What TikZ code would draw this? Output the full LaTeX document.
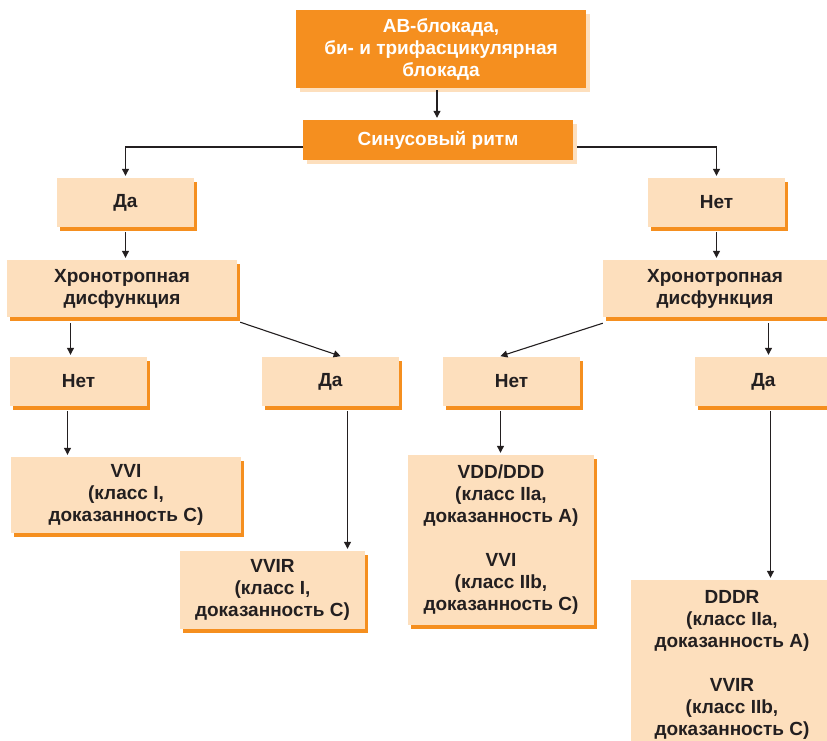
\documentclass[tikz,border=0pt]{standalone}
\usepackage{fontspec}
\setmainfont{Liberation Sans}
\usetikzlibrary{arrows.meta,shadows}

\definecolor{boxorange}{HTML}{F58F1F}
\definecolor{boxpeach}{HTML}{FDDFBD}
\definecolor{inkdark}{HTML}{231F20}

\tikzset{
  mainbox/.style={fill=boxorange, text=white, align=center, inner sep=0pt,
    font=\fontsize{19}{22}\selectfont\bfseries,
    general shadow={fill=boxpeach, shadow xshift=4pt, shadow yshift=-4pt}},
  choicebox/.style={fill=boxpeach, text=inkdark, align=center, inner sep=0pt,
    font=\fontsize{19}{22}\selectfont\bfseries,
    general shadow={fill=boxorange, shadow xshift=3pt, shadow yshift=-4pt}},
  link/.style={-{Triangle[length=7pt,width=7pt]}, line width=1.1pt, draw=inkdark, shorten >=2pt}
}

\begin{document}
\begin{tikzpicture}[x=1pt, y=-1pt]

\useasboundingbox (0,0) rectangle (827,741);

% Top
\node[mainbox, minimum width=290pt, minimum height=78pt] (blockade) at (441,49)
  {АВ-блокада,\\би- и трифасцикулярная\\блокада};
\node[mainbox, minimum width=270pt, minimum height=40pt] (sinus) at (438,140) {Синусовый ритм};

% Sinus rhythm: yes / no
\node[choicebox, minimum width=137pt, minimum height=49pt] (yesA) at (125.5,202.5) {Да};
\node[choicebox, minimum width=137pt, minimum height=49pt] (noA) at (716.5,202.5) {Нет};

% Chronotropic dysfunction
\node[choicebox, minimum width=230pt, minimum height=57pt] (chronL) at (122,288.5)
  {Хронотропная\\дисфункция};
\node[choicebox, minimum width=224pt, minimum height=57pt] (chronR) at (715,288.5)
  {Хронотропная\\дисфункция};

% Second answers
\node[choicebox, minimum width=137pt, minimum height=49pt] (noL) at (78.5,381.5) {Нет};
\node[choicebox, minimum width=137pt, minimum height=49pt] (yesL) at (330.5,381.5) {Да};
\node[choicebox, minimum width=137pt, minimum height=49pt] (noR) at (511.5,381.5) {Нет};
\node[choicebox, minimum width=137pt, minimum height=49pt] (yesR) at (763.5,381.5) {Да};

% Pacing modes
\node[choicebox, minimum width=230pt, minimum height=76pt] (vvi) at (126,495)
  {VVI\\(класс I,\\доказанность С)};
\node[choicebox, minimum width=185pt, minimum height=78pt] (vvir) at (272.5,590)
  {VVIR\\(класс I,\\доказанность С)};
\node[choicebox, minimum width=186pt, minimum height=170pt] (vdd) at (501,540)
  {VDD/DDD\\(класс IIa,\\доказанность А)\\[22pt]VVI\\(класс IIb,\\доказанность С)};
\node[choicebox, minimum width=202pt, minimum height=170pt] (dddr) at (732,665)
  {DDDR\\(класс IIa,\\доказанность А)\\[22pt]VVIR\\(класс IIb,\\доказанность С)};

% Connectors
\draw[link] ([xshift=-4pt,yshift=-2pt]blockade.south) -- ([xshift=-4pt]blockade.south |- sinus.north);
\draw[link] ([yshift=-7pt]sinus.west) -| (yesA.north);
\draw[link] ([xshift=4pt,yshift=-7pt]sinus.east) -| (noA.north);
\draw[link, shorten <=5pt] (yesA.south) -- (yesA.south |- chronL.north);
\draw[link, shorten <=5pt] (noA.south) -- (noA.south |- chronR.north);
\draw[link, shorten <=6pt] ([xshift=-8pt]noL.north |- chronL.south) -- ([xshift=-8pt]noL.north);
\draw[link] ([shift={(3pt,-5pt)}]chronL.south east) -- ([xshift=12pt]yesL.north);
\draw[link] ([yshift=-6pt]chronR.south west) -- ([xshift=-13pt]noR.north);
\draw[link, shorten <=6pt] ([xshift=5pt]yesR.north |- chronR.south) -- ([xshift=5pt]yesR.north);
\draw[link, shorten <=5pt] ([xshift=-11pt]noL.south) -- ([xshift=-11pt]noL.south |- vvi.north);
\draw[link, shorten <=5pt] ([xshift=17pt]yesL.south) -- ([xshift=17pt]yesL.south |- vvir.north);
\draw[link, shorten <=5pt] ([xshift=-11pt]noR.south) -- ([xshift=-11pt]noR.south |- vdd.north);
\draw[link, shorten <=5pt] ([xshift=7pt]yesR.south) -- ([xshift=7pt]yesR.south |- dddr.north);

\end{tikzpicture}
\end{document}
